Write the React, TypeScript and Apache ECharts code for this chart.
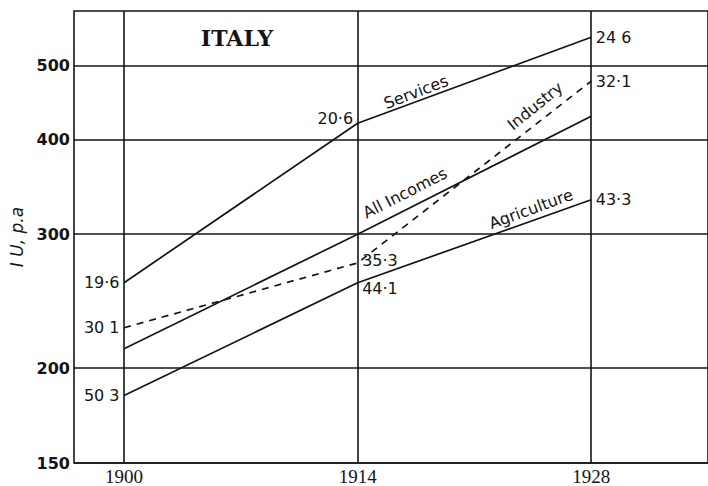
import React, { useEffect, useRef } from "react";
import * as echarts from "echarts";

const years = [1900, 1914, 1928];
const services = [259, 420, 545];
const industry = [226, 275, 477];
const allIncomes = [212, 300, 429];
const agriculture = [184, 259, 333];

const servicesLabels = ["19·6", "20·6", "24 6"];
const industryLabels = ["30 1", "35·3", "32·1"];
const agricultureLabels = ["50 3", "44·1", "43·3"];

const yTicks = [150, 200, 300, 400, 500];
const xTicks = [1900, 1914, 1928];

const LINE = "#141414";
const NUM_FONT = "DejaVu Sans";

type Pos = { position: string; offset?: number[] };

const servicesPos: Pos[] = [
  { position: "left" },
  { position: "left", offset: [0, -5] },
  { position: "right" },
];
const industryPos: Pos[] = [
  { position: "left" },
  { position: "right", offset: [0, -2] },
  { position: "right" },
];
const agriculturePos: Pos[] = [
  { position: "left" },
  { position: "right", offset: [0, 6] },
  { position: "right" },
];

function buildData(values: number[], labels: (string | null)[] | null, pos: Pos[] | null) {
  return years.map((yr, i) => {
    const item: any = { value: [yr, values[i]] };
    if (labels && labels[i]) {
      item.label = {
        show: true,
        position: pos ? pos[i].position : "right",
        offset: pos && pos[i].offset ? pos[i].offset : [0, 0],
        distance: 4,
        formatter: labels[i],
        color: LINE,
        fontFamily: NUM_FONT,
        fontSize: 16,
      };
    }
    return item;
  });
}

function lineSeries(name: string, values: number[], labels: string[] | null, pos: Pos[] | null, dashed: boolean, extra: any = {}) {
  return {
    name,
    type: "line",
    data: buildData(values, labels, pos),
    symbol: "circle",
    symbolSize: 1,
    showSymbol: true,
    itemStyle: { color: "rgba(0,0,0,0)" },
    lineStyle: { color: LINE, width: 1.7, type: dashed ? [7, 6] : "solid" },
    silent: true,
    z: 3,
    ...extra,
  };
}

export default function App() {
  const ref = useRef<HTMLDivElement>(null);

  useEffect(() => {
    if (!ref.current) return;
    const chart = echarts.init(ref.current, null, { renderer: "svg" });
    const deg = Math.PI / 180;
    const nameText = (text: string, x: number, y: number, rot: number) => ({
      type: "text",
      x,
      y,
      rotation: rot * deg,
      silent: true,
      z: 10,
      style: {
        text,
        fontFamily: "DejaVu Sans",
        fontSize: 16,
        fill: LINE,
        align: "center",
        verticalAlign: "middle",
      },
    });

    chart.setOption({
      animation: false,
      backgroundColor: "#ffffff",
      grid: {
        left: 68,
        right: -3,
        top: 11,
        bottom: 23,
        show: true,
        borderColor: LINE,
        borderWidth: 1.6,
        backgroundColor: "transparent",
      },
      xAxis: {
        type: "value",
        min: 1897,
        max: 1935,
        axisLine: { show: false },
        axisTick: { show: false },
        splitLine: { show: false },
        axisLabel: {
          customValues: xTicks,
          color: LINE,
          fontFamily: "Liberation Serif",
          fontSize: 19,
          margin: 4,
          formatter: (v: number) => String(v),
        },
      },
      yAxis: {
        type: "log",
        logBase: 10,
        min: 150,
        max: 590,
        name: "I U, p.a",
        nameLocation: "middle",
        nameGap: 49,
        nameRotate: 90,
        nameTextStyle: {
          color: LINE,
          fontFamily: "DejaVu Sans",
          fontStyle: "italic",
          fontSize: 17,
        },
        axisLine: { show: false },
        axisTick: { show: false },
        splitLine: { show: false },
        axisLabel: { show: false },
      },
      graphic: [
        {
          type: "text",
          x: 237,
          y: 38,
          silent: true,
          style: {
            text: "ITALY",
            fontFamily: "DejaVu Serif",
            fontWeight: "bold",
            fontSize: 22,
            fill: LINE,
            align: "center",
            verticalAlign: "middle",
          },
        },
        nameText("Services", 416, 92, 21),
        nameText("Industry", 535, 106, 39),
        nameText("All Incomes", 405, 193, 27),
        nameText("Agriculture", 531, 209, 20),
      ],
      series: [
        lineSeries("Services", services, servicesLabels, servicesPos, false, {
          markLine: {
            silent: true,
            symbol: "none",
            animation: false,
            lineStyle: { color: LINE, width: 1.6, type: "solid" },
            data: [
              ...yTicks.map((v) => ({
                yAxis: v,
                label: {
                  show: true,
                  position: "start",
                  distance: 4,
                  formatter: String(v),
                  color: LINE,
                  fontFamily: NUM_FONT,
                  fontWeight: "bold",
                  fontSize: 16,
                },
              })),
              ...xTicks.map((v) => ({ xAxis: v, label: { show: false } })),
            ],
          },
        }),
        lineSeries("Industry", industry, industryLabels, industryPos, true),
        lineSeries("All Incomes", allIncomes, null, null, false),
        lineSeries("Agriculture", agriculture, agricultureLabels, agriculturePos, false),
      ],
    });
    return () => chart.dispose();
  }, []);

  return (
    <div
      ref={ref}
      style={{ position: "fixed", left: 0, top: 0, width: 708, height: 486, background: "#fff" }}
    />
  );
}
